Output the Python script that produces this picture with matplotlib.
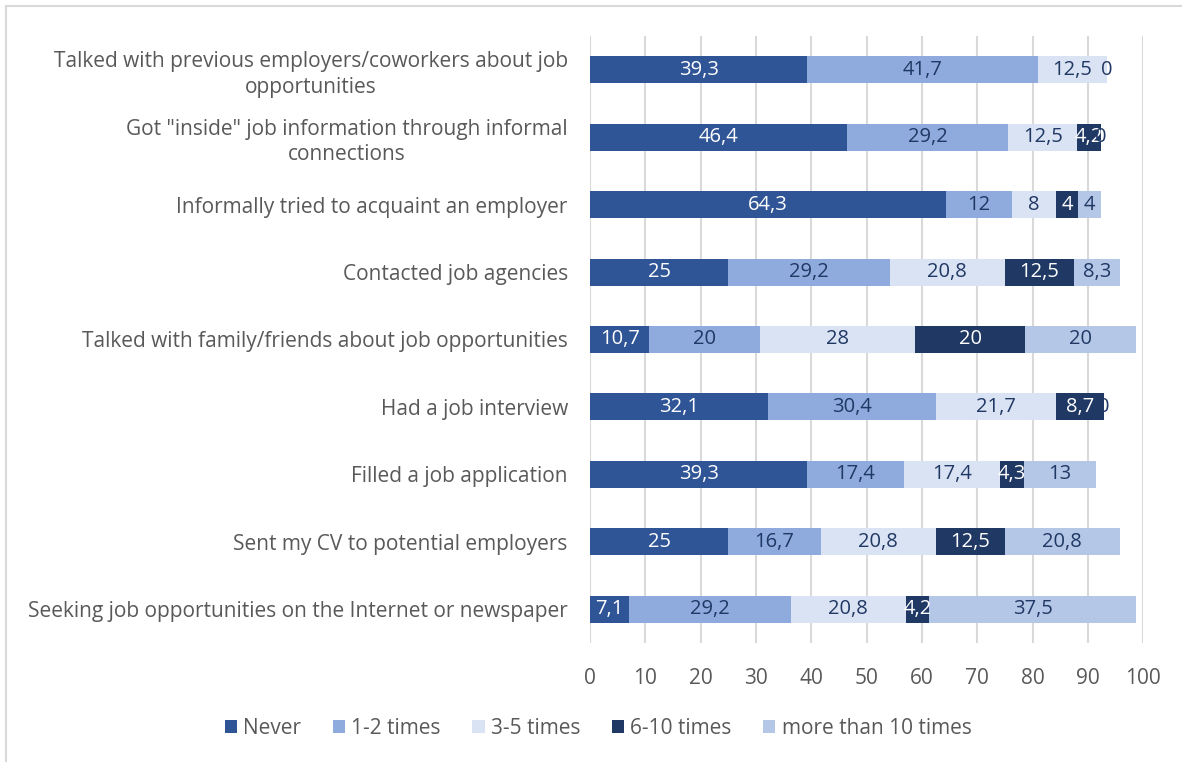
import matplotlib.pyplot as plt
from matplotlib.patches import Rectangle

plt.rcParams['font.family'] = ['Open Sans', 'DejaVu Sans']

categories = [
    "Talked with previous employers/coworkers about job\nopportunities",
    "Got \"inside\" job information through informal\nconnections",
    "Informally tried to acquaint an employer",
    "Contacted job agencies",
    "Talked with family/friends about job opportunities",
    "Had a job interview",
    "Filled a job application",
    "Sent my CV to potential employers",
    "Seeking job opportunities on the Internet or newspaper",
]
series_names = ["Never", "1-2 times", "3-5 times", "6-10 times", "more than 10 times"]
never = [39.3, 46.4, 64.3, 25, 10.7, 32.1, 39.3, 25, 7.1]
times_1_2 = [41.7, 29.2, 12, 29.2, 20, 30.4, 17.4, 16.7, 29.2]
times_3_5 = [12.5, 12.5, 8, 20.8, 28, 21.7, 17.4, 20.8, 20.8]
times_6_10 = [0, 4.2, 4, 12.5, 20, 8.7, 4.3, 12.5, 4.2]
times_10_plus = [0, 0, 4, 8.3, 20, 0, 13, 20.8, 37.5]

colors = ["#2F5597", "#8FAADC", "#DAE3F3", "#203864", "#B4C7E7"]
label_colors = ["white", "#203864", "#203864", "white", "#203864"]


def fmt(v):
    if float(v).is_integer():
        return str(int(v))
    return f"{v:.1f}".replace(".", ",")


fig = plt.figure(figsize=(11.82, 7.62), dpi=100)
ax = fig.add_axes([0.4992, 0.1562, 0.4679, 0.7966])

# chart frame
fig.patches.append(Rectangle((6 / 1182, -0.1), 1.2, 1 - 6 / 762 + 0.1, transform=fig.transFigure,
                             fill=False, edgecolor="#D9D9D9", linewidth=1.5))

y = list(range(len(categories)))
left = [0.0] * len(categories)
for name, vals, c, tc in zip(series_names,
                             [never, times_1_2, times_3_5, times_6_10, times_10_plus],
                             colors, label_colors):
    bars = ax.barh(y, vals, left=left, height=0.4, color=c, label=name, zorder=3)
    ax.bar_label(bars, labels=[fmt(v) for v in vals], label_type="center",
                 color=tc, fontsize=14.5, zorder=4)
    left = [l + v for l, v in zip(left, vals)]

ax.set_xlim(0, 100)
ax.set_ylim(len(categories) - 0.5, -0.5)
ax.set_xticks(range(0, 101, 10))
ax.set_yticks(y)
ax.set_yticklabels(categories, multialignment="center", linespacing=1.3)
ax.tick_params(axis="y", length=0, pad=16, labelsize=15, labelcolor="#595959")
ax.tick_params(axis="x", length=0, pad=18, labelsize=15, labelcolor="#595959")
ax.grid(axis="x", color="#D9D9D9", linewidth=1.5, zorder=0)
for s in ax.spines.values():
    s.set_visible(False)

fig.legend(loc="center", bbox_to_anchor=(0.506, 1 - 728 / 762), ncol=5, frameon=False,
           fontsize=15, labelcolor="#595959", handlelength=0.6, handleheight=0.6,
           handletextpad=0.3, columnspacing=1.5)

fig.savefig("out.png", dpi=100)
